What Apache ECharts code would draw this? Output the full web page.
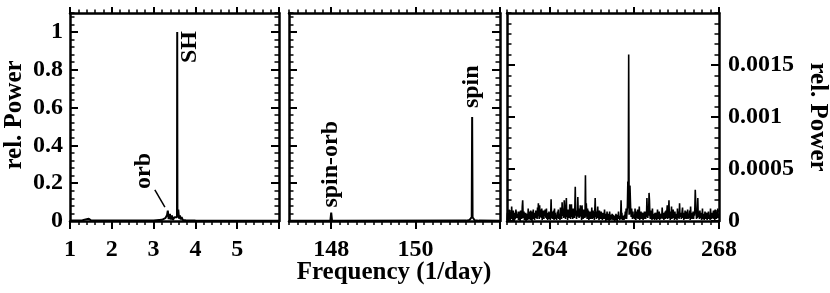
<!DOCTYPE html>
<html><head><meta charset="utf-8">
<script src="https://cdn.jsdelivr.net/npm/echarts@6/dist/echarts.min.js"></script>
<style>html,body{margin:0;padding:0;background:#fff}#c{width:830px;height:293px}</style>
</head><body><div id="c"></div>
<script>
const FONT = '"Liberation Serif", "Times New Roman", serif';

// ---- Panel 1: low-frequency region (orbital / SH) ----
const p1Freq  = [1.0, 1.3, 1.4, 1.45, 1.5, 1.8, 2.5, 3.0, 3.2, 3.28, 3.32, 3.34, 3.36, 3.39, 3.41, 3.44, 3.46, 3.5, 3.53, 3.56, 3.565, 3.57, 3.59, 3.61, 3.63, 3.65, 3.67, 3.7, 3.73, 3.77, 3.8, 4.0, 5.0, 6.0];
const p1Power = [0.002, 0.004, 0.01, 0.012, 0.004, 0.002, 0.002, 0.003, 0.006, 0.015, 0.03, 0.055, 0.01, 0.038, 0.008, 0.03, 0.006, 0.02, 0.03, 0.02, 1.0, 0.04, 0.06, 0.012, 0.03, 0.008, 0.02, 0.005, 0.012, 0.004, 0.006, 0.002, 0.001, 0.001];

// ---- Panel 2: spin region ----
const p2Freq  = [147.0, 147.98, 148.0, 148.02, 151.2, 151.28, 151.31, 151.33, 151.34, 151.35, 151.37, 151.4, 151.5, 152.0];
const p2Power = [0.001, 0.001, 0.045, 0.001, 0.002, 0.006, 0.015, 0.02, 0.55, 0.02, 0.012, 0.004, 0.002, 0.001];

// ---- Panel 3: high-frequency region, power in units of 1e-5, sampled every 0.01 1/day from 263 ----
const p3Start = 263.0;
const p3Step = 0.01;
const p3Power1e5 = [
  1,8,2,5,0,11,3,9,1,6,2,14,4,7,0,10,3,5,1,8,2,11,6,9,3,
  2,7,1,9,3,6,0,10,4,8,2,14,20,6,3,9,1,5,2,8,0,7,3,6,1,
  12,4,9,2,8,1,10,3,7,0,9,5,11,2,8,1,6,3,10,4,7,2,13,5,17,
  6,2,15,4,9,11,3,12,1,7,4,10,2,9,5,11,6,3,12,2,8,1,5,3,9,
  2,8,1,6,21,3,9,2,7,4,10,1,12,5,8,2,6,1,4,9,3,11,2,7,5,
  1,13,4,9,2,18,5,8,12,3,20,6,10,2,14,22,4,9,1,11,5,8,3,16,6,
  2,8,16,4,11,2,12,6,9,3,14,33,5,10,2,8,4,23,7,12,3,9,5,15,4,
  6,1,15,3,8,2,11,5,9,3,44,4,17,8,2,12,6,10,1,7,3,9,2,6,4,
  13,2,6,10,3,7,1,9,22,4,9,2,5,8,14,3,6,1,10,4,7,2,9,5,3,
  1,8,3,5,2,11,4,7,0,6,3,9,1,7,2,5,0,9,3,6,1,5,2,7,3,
  1,6,2,4,0,5,2,7,1,3,0,6,2,9,3,5,1,4,2,20,6,8,1,5,2,
  4,1,6,2,9,3,12,2,8,15,38,12,160,6,10,34,20,8,4,12,6,2,9,3,5,
  6,2,12,4,1,9,3,5,11,2,7,3,14,1,7,4,9,2,5,3,8,1,6,2,9,
  3,9,2,6,4,22,8,3,13,5,27,20,6,2,10,4,8,1,12,3,7,2,5,1,8,
  2,5,8,1,3,11,2,6,4,9,1,7,4,2,7,3,13,5,2,8,1,6,3,9,2,
  10,3,4,15,2,6,8,20,3,5,1,9,4,14,2,5,8,11,3,6,1,9,4,7,2,
  6,1,12,3,5,9,2,17,4,5,8,2,4,9,13,3,6,1,8,2,10,4,7,2,9,
  4,11,2,7,3,5,10,1,14,3,8,2,6,4,9,2,8,5,12,30,19,8,2,6,3,
  22,4,9,6,2,10,3,4,8,1,3,12,2,5,7,1,4,9,2,6,3,8,1,5,2,
  9,2,3,6,1,12,4,5,2,8,3,4,10,2,6,1,11,3,7,2,9,4,12,3,6,
  7
];

// ---- Ticks / labels ----
const p1XMajor = [1, 2, 3, 4, 5, 6];
const p1XLabels = [1, 2, 3, 4, 5];
const p2XMajor = [148, 150, 152];
const p2XLabels = [148, 150];
const p3XMajor = [264, 266, 268];
const p3XLabels = [264, 266, 268];
const pYMajor = [0, 0.2, 0.4, 0.6, 0.8, 1.0];
const pYLabels = [0, 0.2, 0.4, 0.6, 0.8, 1];
const p3YMajor = [0, 0.0005, 0.001, 0.0015];
const p3YLabels = [0, 0.0005, 0.001, 0.0015];

const zip = (a, b) => a.map((v, i) => [v, b[i]]);
const p1Data = zip(p1Freq, p1Power);
const p2Data = zip(p2Freq, p2Power);
const p3Data = p3Power1e5.map((v, i) => [p3Start + p3Step * i, v * 1e-5]);

const BLACK = '#000';
const labelStyle = {fontFamily: FONT, fontSize: 24, fontWeight: 'bold', color: BLACK};

function xAxes(g, min, max, major, labels, minorInt) {
  const base = {type: 'value', gridIndex: g, min, max, splitLine: {show: false}};
  return [
    Object.assign({}, base, {position: 'bottom',
      axisLine: {show: true, onZero: false, lineStyle: {color: BLACK, width: 2.5}},
      axisTick: {show: true, inside: false, length: 8, customValues: major, lineStyle: {color: BLACK, width: 2}},
      axisLabel: Object.assign({show: true, margin: 17, customValues: labels}, labelStyle)}),
    Object.assign({}, base, {position: 'bottom', interval: minorInt,
      axisLine: {show: false, onZero: false},
      axisTick: {show: true, inside: false, length: 4, lineStyle: {color: BLACK, width: 1.5}},
      axisLabel: {show: false}}),
    Object.assign({}, base, {position: 'top',
      axisLine: {show: true, onZero: false, lineStyle: {color: BLACK, width: 2.5}},
      axisTick: {show: true, inside: false, length: 6, customValues: major, lineStyle: {color: BLACK, width: 2}},
      axisLabel: {show: false}}),
    Object.assign({}, base, {position: 'top', interval: minorInt,
      axisLine: {show: false, onZero: false},
      axisTick: {show: true, inside: false, length: 3.5, lineStyle: {color: BLACK, width: 1.5}},
      axisLabel: {show: false}})
  ];
}

function yAxes(g, min, max, major, labels, minorInt, labelSide) {
  const base = {type: 'value', gridIndex: g, min, max, splitLine: {show: false}};
  const mk = (pos, withLabel) => [
    Object.assign({}, base, {position: pos,
      axisLine: {show: true, onZero: false, lineStyle: {color: BLACK, width: 2.5}},
      axisTick: {show: true, inside: true, length: 8, customValues: major, lineStyle: {color: BLACK, width: 2}},
      axisLabel: withLabel ? Object.assign({show: true, margin: pos === 'left' ? 7 : 9, customValues: labels}, labelStyle) : {show: false}}),
    Object.assign({}, base, {position: pos, interval: minorInt,
      axisLine: {show: false, onZero: false},
      axisTick: {show: true, inside: true, length: 4.5, lineStyle: {color: BLACK, width: 1.5}},
      axisLabel: {show: false}})
  ];
  return mk('left', labelSide === 'left').concat(mk('right', labelSide === 'right'));
}

const grids = [
  {left: 70, top: 13, width: 209, height: 208},
  {left: 289, top: 13, width: 211, height: 208},
  {left: 507, top: 13, width: 212, height: 208}
];

const xAxis = [].concat(
  xAxes(0, 1, 6, p1XMajor, p1XLabels, 0.2),
  xAxes(1, 147, 152, p2XMajor, p2XLabels, 0.2),
  xAxes(2, 263, 268, p3XMajor, p3XLabels, 0.2)
);
const yAxis = [].concat(
  yAxes(0, 0, 1.1, pYMajor, pYLabels, 0.04, 'left'),
  yAxes(1, 0, 1.1, pYMajor, pYLabels, 0.04, 'none'),
  yAxes(2, 0, 0.002, p3YMajor, p3YLabels, 0.0001, 'right')
);

const lineSeries = (xi, yi, data, w) => ({
  type: 'line', xAxisIndex: xi, yAxisIndex: yi, data, symbol: 'none',
  lineStyle: {color: BLACK, width: w}, silent: true, animation: false, clip: true
});

const chart = echarts.init(document.getElementById('c'), null, {renderer: 'canvas'});
chart.setOption({
  animation: false,
  backgroundColor: '#fff',
  grid: grids,
  xAxis, yAxis,
  series: [
    lineSeries(0, 0, p1Data, 2),
    lineSeries(4, 4, p2Data, 2),
    lineSeries(8, 10, p3Data, 1.6)
  ]
});

// annotations in data coordinates
const annotations = [
  {series: 0, at: [3.87, 0.92], text: 'SH', rot: Math.PI / 2},
  {series: 0, at: [2.77, 0.265], text: 'orb', rot: Math.PI / 2},
  {series: 1, at: [148.0, 0.3], text: 'spin-orb', rot: Math.PI / 2},
  {series: 1, at: [151.34, 0.71], text: 'spin', rot: Math.PI / 2}
];
const orbPointer = {series: 0, from: [3.03, 0.164], to: [3.27, 0.074]};

const font = 'bold 24px ' + FONT;
const elements = annotations.map(a => {
  const p = chart.convertToPixel({seriesIndex: a.series}, a.at);
  return {type: 'text', x: p[0], y: p[1], rotation: a.rot, silent: true,
    style: {text: a.text, font, fill: BLACK, align: 'center', verticalAlign: 'middle', textAlign: 'center', textVerticalAlign: 'middle'}};
});
const pf = chart.convertToPixel({seriesIndex: orbPointer.series}, orbPointer.from);
const pt = chart.convertToPixel({seriesIndex: orbPointer.series}, orbPointer.to);
elements.push({type: 'line', shape: {x1: pf[0], y1: pf[1], x2: pt[0], y2: pt[1]}, style: {stroke: BLACK, lineWidth: 1.5}, silent: true});

// axis titles
const titleFont = 'bold 25px ' + FONT;
elements.push({type: 'text', x: 15, y: 115, rotation: Math.PI / 2, silent: true,
  style: {text: 'rel. Power', font: titleFont, fill: BLACK, align: 'center', verticalAlign: 'middle', textAlign: 'center', textVerticalAlign: 'middle'}});
elements.push({type: 'text', x: 817, y: 117, rotation: -Math.PI / 2, silent: true,
  style: {text: 'rel. Power', font: titleFont, fill: BLACK, align: 'center', verticalAlign: 'middle', textAlign: 'center', textVerticalAlign: 'middle'}});
elements.push({type: 'text', x: 394, y: 273, silent: true,
  style: {text: 'Frequency (1/day)', font: titleFont, fill: BLACK, align: 'center', verticalAlign: 'middle', textAlign: 'center', textVerticalAlign: 'middle'}});

chart.setOption({graphic: {elements}});
</script>
</body></html>
